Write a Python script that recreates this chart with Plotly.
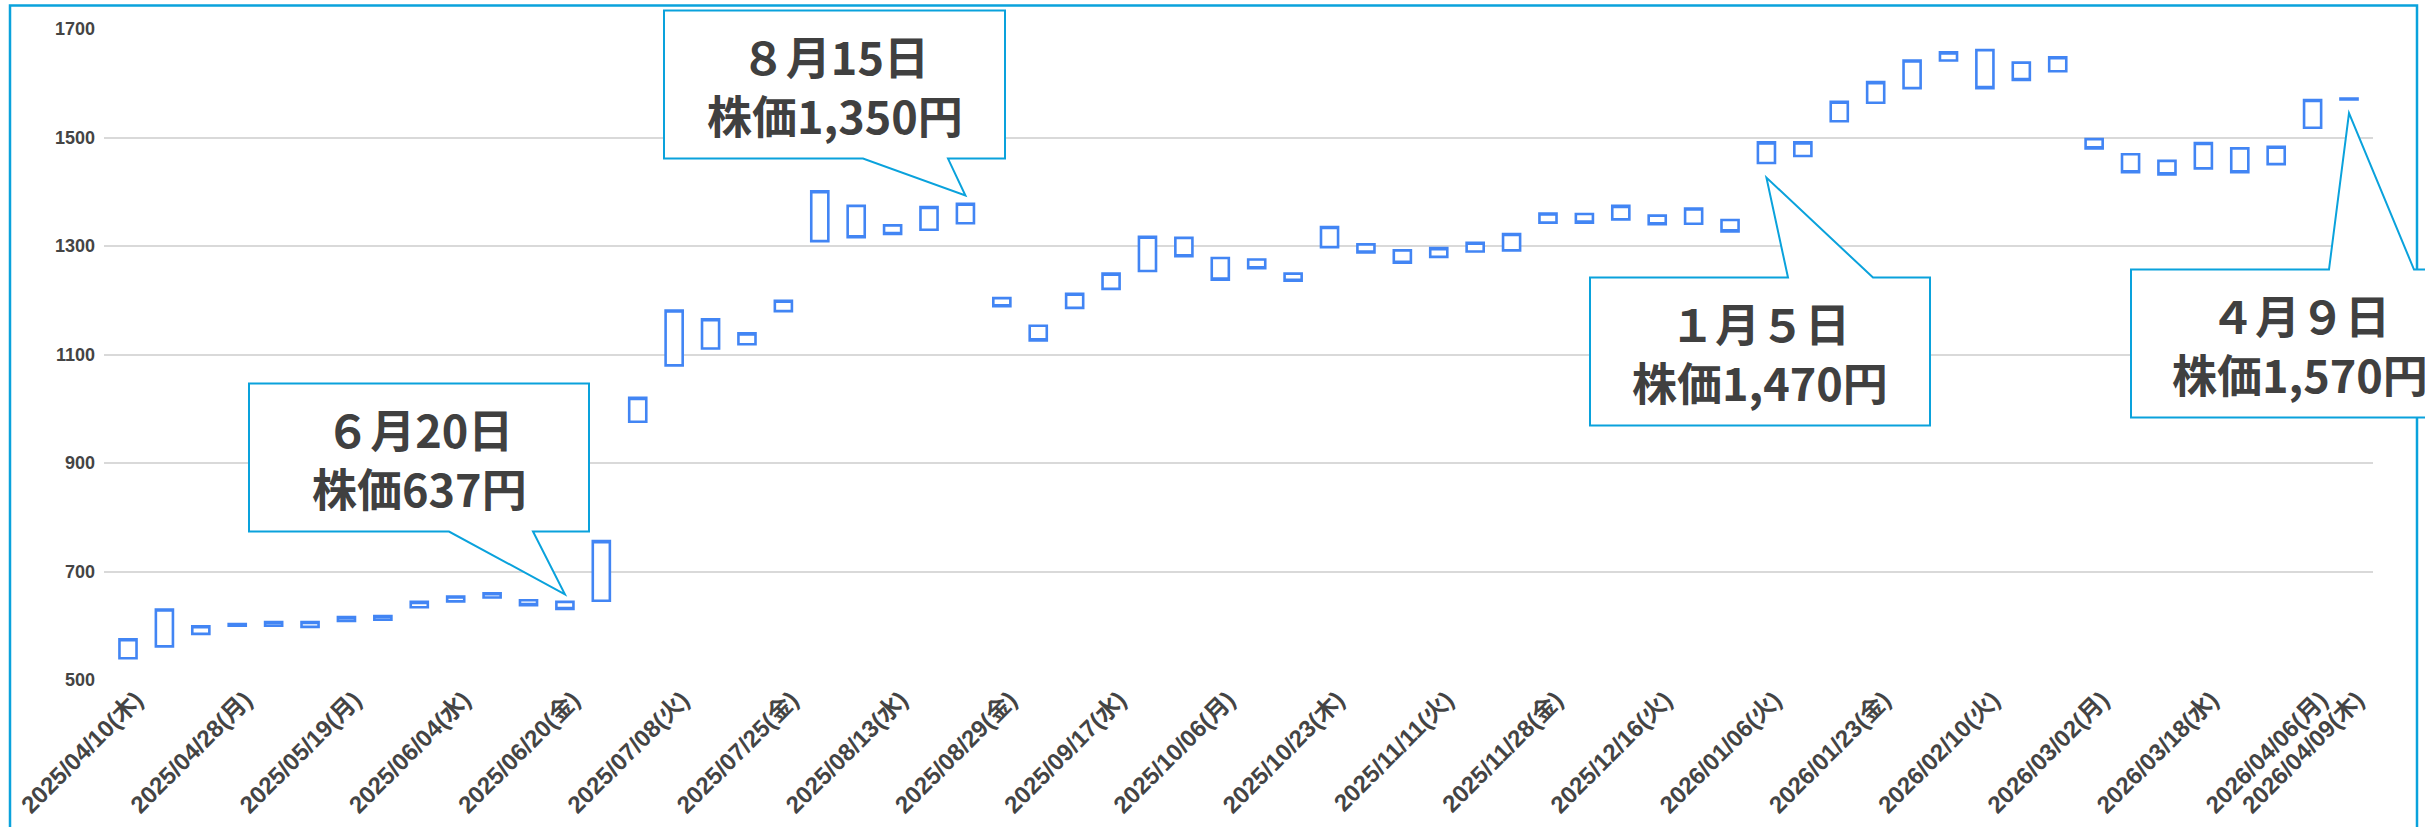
import plotly.graph_objects as go

# ---- data -------------------------------------------------------------
# one candle per period; bodies only (open / close)
open_price = [540, 562, 585, 600, 600, 598, 609, 611, 634, 645,
              652, 647, 644, 646, 976, 1080, 1111, 1119, 1180, 1309,
              1374, 1338, 1330, 1342, 1204, 1153, 1186, 1221, 1254, 1315,
              1278, 1275, 1249, 1298, 1303, 1292, 1280, 1290, 1292, 1343,
              1359, 1349, 1356, 1341, 1348, 1453, 1466, 1530, 1564, 1591,
              1642, 1661, 1638, 1622, 1497, 1469, 1457, 1443, 1480, 1451,
              1518, 1572]
close_price = [575, 630, 599, 603, 607, 607, 616, 618, 644, 654,
               660, 638, 631, 756, 1020, 1181, 1165, 1139, 1199, 1401,
               1316, 1322, 1372, 1378, 1189, 1126, 1212, 1249, 1317, 1281,
               1238, 1259, 1236, 1335, 1288, 1269, 1296, 1306, 1322, 1360,
               1343, 1374, 1340, 1369, 1327, 1491, 1491, 1566, 1602, 1642,
               1657, 1591, 1606, 1648, 1480, 1436, 1432, 1490, 1436, 1483,
               1569, 1570]

tick_index = [0, 3, 6, 9, 12, 15, 18, 21, 24, 27, 30, 33, 36, 39, 42,
              45, 48, 51, 54, 57, 60, 61]
tick_labels = ["2025/04/10(木)", "2025/04/28(月)", "2025/05/19(月)",
               "2025/06/04(水)", "2025/06/20(金)", "2025/07/08(火)",
               "2025/07/25(金)", "2025/08/13(水)", "2025/08/29(金)",
               "2025/09/17(水)", "2025/10/06(月)", "2025/10/23(木)",
               "2025/11/11(火)", "2025/11/28(金)", "2025/12/16(火)",
               "2026/01/06(火)", "2026/01/23(金)", "2026/02/10(火)",
               "2026/03/02(月)", "2026/03/18(水)", "2026/04/06(月)",
               "2026/04/09(木)"]

y_ticks = [500, 700, 900, 1100, 1300, 1500, 1700]

# callouts: date text, price text, candle pointed at, price level of the pointer tip
callout_date = ["６月20日", "８月15日", "１月５日", "４月９日"]
callout_price = ["株価637円", "株価1,350円", "株価1,470円", "株価1,570円"]
callout_index = [12, 23, 45, 61]
callout_tip = [658, 1393, 1426, 1545]

# ---- geometry ---------------------------------------------------------
W, H = 2425, 827
PL, PR, PT, PB = 104, 2373, 29.4, 680.5
XMIN, XMAX = -0.659, 61.659
YMIN, YMAX = 500, 1700

def xp(px):
    return (px - PL) / (PR - PL)

def yp(py):
    return (PB - py) / (PB - PT)

def data_xp(i):
    return (i - XMIN) / (XMAX - XMIN)

def data_yp(v):
    return (v - YMIN) / (YMAX - YMIN)

BLUE = "#4285F4"
CYAN = "#0AA2DC"
TEXT = "#404040"

high = [max(o, c) for o, c in zip(open_price, close_price)]
low = [min(o, c) for o, c in zip(open_price, close_price)]
x = list(range(len(open_price)))

fig = go.Figure(go.Candlestick(
    x=x, open=open_price, high=high, low=low, close=close_price,
    increasing=dict(line=dict(color=BLUE, width=2.6), fillcolor="white"),
    decreasing=dict(line=dict(color=BLUE, width=2.6), fillcolor="white"),
    whiskerwidth=0, hoverinfo="skip", showlegend=False,
))

# speech-bubble boxes (pixel layout): left, right, top, bottom, pointer base x1, x2, side
bubbles = [
    (249, 589, 384, 532, 449, 533, "bottom"),
    (664, 1005, 11, 159, 863, 948, "bottom"),
    (1590, 1930, 278, 426, 1788, 1873, "top"),
    (2131, 2469, 270, 418, 2329, 2414, "top"),
]

shapes = [dict(type="rect", xref="paper", yref="paper",
               x0=xp(10), x1=xp(2417), y0=yp(6), y1=yp(870),
               line=dict(color=CYAN, width=2.5), fillcolor="rgba(0,0,0,0)",
               layer="above")]
annotations = []

for k, (l, r, t, b, b1, b2, side) in enumerate(bubbles):
    tx = data_xp(callout_index[k])
    ty = data_yp(callout_tip[k])
    L, R, T, B = xp(l), xp(r), yp(t), yp(b)
    X1, X2 = xp(b1), xp(b2)
    if side == "bottom":
        path = (f"M{L},{T} L{R},{T} L{R},{B} L{X2},{B} L{tx},{ty} "
                f"L{X1},{B} L{L},{B} Z")
    else:
        path = (f"M{L},{T} L{X1},{T} L{tx},{ty} L{X2},{T} L{R},{T} "
                f"L{R},{B} L{L},{B} Z")
    shapes.append(dict(type="path", xref="paper", yref="paper", path=path,
                       line=dict(color=CYAN, width=2), fillcolor="white",
                       layer="above"))
    annotations.append(dict(
        xref="paper", yref="paper", x=xp((l + r) / 2), y=yp(t + 74),
        xanchor="center", yanchor="middle", showarrow=False,
        text=f"{callout_date[k]}<br>{callout_price[k]}",
        font=dict(family="Noto Sans CJK JP", size=45, color=TEXT,
                  weight="bold")))

ytick_font = dict(family="Liberation Sans, Arial, Noto Sans CJK JP", size=18,
                  color="#444444", weight="bold")
xtick_font = dict(family="Liberation Sans, Arial, Noto Sans CJK JP", size=24,
                  color="#444444", weight="bold")

fig.update_layout(
    width=W, height=H,
    margin=dict(l=PL, r=W - PR, t=PT, b=H - PB, pad=0, autoexpand=False),
    paper_bgcolor="white", plot_bgcolor="white",
    boxgap=0.33,
    shapes=shapes, annotations=annotations,
    xaxis=dict(range=[XMIN, XMAX], tickmode="array", tickvals=tick_index,
               ticktext=tick_labels, tickangle=-45, tickfont=xtick_font,
               ticklabelshift=8,
               showgrid=False, zeroline=False, showline=False,
               rangeslider=dict(visible=False), ticks="", fixedrange=True),
    yaxis=dict(range=[YMIN, YMAX], tickmode="array", tickvals=y_ticks,
               tickfont=ytick_font, showgrid=True, gridcolor="#d9d9d9",
               gridwidth=1.6, zeroline=False, showline=False, ticks="",
               ticklabelstandoff=8, fixedrange=True),
)

fig.write_html("out.html")
